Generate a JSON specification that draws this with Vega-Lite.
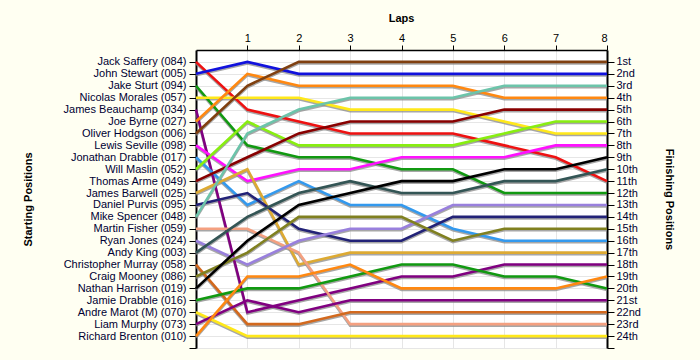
{
  "$schema": "https://vega.github.io/schema/vega-lite/v6.json",
  "width": 411,
  "height": 298,
  "autosize": {"type": "none"},
  "padding": {"left": 196, "top": 50, "right": 93, "bottom": 12},
  "background": "#FFFFF2",
  "config": {
    "view": {"stroke": null, "fill": "#FFFFFF"},
    "axis": {
      "labelFont": "Liberation Sans", "titleFont": "Liberation Sans",
      "labelFontSize": 11, "titleFontSize": 11, "titleFontWeight": "bold",
      "labelColor": "#000033", "titleColor": "#000000",
      "domainColor": "#000000", "tickColor": "#000000", "gridColor": "#E6E6E6"
    }
  },
  "data": {"values": [
    {"d":1,"l":0,"p":1},{"d":1,"l":1,"p":5},{"d":1,"l":2,"p":6},{"d":1,"l":3,"p":7},{"d":1,"l":4,"p":7},{"d":1,"l":5,"p":7},{"d":1,"l":6,"p":8},{"d":1,"l":7,"p":9},{"d":1,"l":8,"p":11},
    {"d":2,"l":0,"p":2},{"d":2,"l":1,"p":1},{"d":2,"l":2,"p":2},{"d":2,"l":3,"p":2},{"d":2,"l":4,"p":2},{"d":2,"l":5,"p":2},{"d":2,"l":6,"p":2},{"d":2,"l":7,"p":2},{"d":2,"l":8,"p":2},
    {"d":3,"l":0,"p":3},{"d":3,"l":1,"p":8},{"d":3,"l":2,"p":9},{"d":3,"l":3,"p":9},{"d":3,"l":4,"p":10},{"d":3,"l":5,"p":10},{"d":3,"l":6,"p":12},{"d":3,"l":7,"p":12},{"d":3,"l":8,"p":12},
    {"d":4,"l":0,"p":4},{"d":4,"l":1,"p":4},{"d":4,"l":2,"p":4},{"d":4,"l":3,"p":5},{"d":4,"l":4,"p":5},{"d":4,"l":5,"p":5},{"d":4,"l":6,"p":6},{"d":4,"l":7,"p":7},{"d":4,"l":8,"p":7},
    {"d":5,"l":0,"p":5},{"d":5,"l":1,"p":22},{"d":5,"l":2,"p":21},{"d":5,"l":3,"p":20},{"d":5,"l":4,"p":19},{"d":5,"l":5,"p":19},{"d":5,"l":6,"p":18},{"d":5,"l":7,"p":18},{"d":5,"l":8,"p":18},
    {"d":6,"l":0,"p":6},{"d":6,"l":1,"p":2},{"d":6,"l":2,"p":3},{"d":6,"l":3,"p":3},{"d":6,"l":4,"p":3},{"d":6,"l":5,"p":3},{"d":6,"l":6,"p":4},{"d":6,"l":7,"p":4},{"d":6,"l":8,"p":4},
    {"d":7,"l":0,"p":7},{"d":7,"l":1,"p":3},{"d":7,"l":2,"p":1},{"d":7,"l":3,"p":1},{"d":7,"l":4,"p":1},{"d":7,"l":5,"p":1},{"d":7,"l":6,"p":1},{"d":7,"l":7,"p":1},{"d":7,"l":8,"p":1},
    {"d":8,"l":0,"p":8},{"d":8,"l":1,"p":11},{"d":8,"l":2,"p":10},{"d":8,"l":3,"p":10},{"d":8,"l":4,"p":9},{"d":8,"l":5,"p":9},{"d":8,"l":6,"p":9},{"d":8,"l":7,"p":8},{"d":8,"l":8,"p":8},
    {"d":9,"l":0,"p":9},{"d":9,"l":1,"p":13},{"d":9,"l":2,"p":11},{"d":9,"l":3,"p":13},{"d":9,"l":4,"p":13},{"d":9,"l":5,"p":15},{"d":9,"l":6,"p":16},{"d":9,"l":7,"p":16},{"d":9,"l":8,"p":16},
    {"d":10,"l":0,"p":10},{"d":10,"l":1,"p":6},{"d":10,"l":2,"p":8},{"d":10,"l":3,"p":8},{"d":10,"l":4,"p":8},{"d":10,"l":5,"p":8},{"d":10,"l":6,"p":7},{"d":10,"l":7,"p":6},{"d":10,"l":8,"p":6},
    {"d":11,"l":0,"p":11},{"d":11,"l":1,"p":9},{"d":11,"l":2,"p":7},{"d":11,"l":3,"p":6},{"d":11,"l":4,"p":6},{"d":11,"l":5,"p":6},{"d":11,"l":6,"p":5},{"d":11,"l":7,"p":5},{"d":11,"l":8,"p":5},
    {"d":12,"l":0,"p":12},{"d":12,"l":1,"p":10},{"d":12,"l":2,"p":18},{"d":12,"l":3,"p":17},{"d":12,"l":4,"p":17},{"d":12,"l":5,"p":17},{"d":12,"l":6,"p":17},{"d":12,"l":7,"p":17},{"d":12,"l":8,"p":17},
    {"d":13,"l":0,"p":13},{"d":13,"l":1,"p":12},{"d":13,"l":2,"p":15},{"d":13,"l":3,"p":16},{"d":13,"l":4,"p":16},{"d":13,"l":5,"p":14},{"d":13,"l":6,"p":14},{"d":13,"l":7,"p":14},{"d":13,"l":8,"p":14},
    {"d":14,"l":0,"p":14},{"d":14,"l":1,"p":7},{"d":14,"l":2,"p":5},{"d":14,"l":3,"p":4},{"d":14,"l":4,"p":4},{"d":14,"l":5,"p":4},{"d":14,"l":6,"p":3},{"d":14,"l":7,"p":3},{"d":14,"l":8,"p":3},
    {"d":15,"l":0,"p":15},{"d":15,"l":1,"p":15},{"d":15,"l":2,"p":17},{"d":15,"l":3,"p":23},{"d":15,"l":4,"p":23},{"d":15,"l":5,"p":23},{"d":15,"l":6,"p":23},{"d":15,"l":7,"p":23},{"d":15,"l":8,"p":23},
    {"d":16,"l":0,"p":16},{"d":16,"l":1,"p":18},{"d":16,"l":2,"p":16},{"d":16,"l":3,"p":15},{"d":16,"l":4,"p":15},{"d":16,"l":5,"p":13},{"d":16,"l":6,"p":13},{"d":16,"l":7,"p":13},{"d":16,"l":8,"p":13},
    {"d":17,"l":0,"p":17},{"d":17,"l":1,"p":14},{"d":17,"l":2,"p":12},{"d":17,"l":3,"p":11},{"d":17,"l":4,"p":12},{"d":17,"l":5,"p":12},{"d":17,"l":6,"p":11},{"d":17,"l":7,"p":11},{"d":17,"l":8,"p":10},
    {"d":18,"l":0,"p":18},{"d":18,"l":1,"p":23},{"d":18,"l":2,"p":23},{"d":18,"l":3,"p":22},{"d":18,"l":4,"p":22},{"d":18,"l":5,"p":22},{"d":18,"l":6,"p":22},{"d":18,"l":7,"p":22},{"d":18,"l":8,"p":22},
    {"d":19,"l":0,"p":19},{"d":19,"l":1,"p":17},{"d":19,"l":2,"p":14},{"d":19,"l":3,"p":14},{"d":19,"l":4,"p":14},{"d":19,"l":5,"p":16},{"d":19,"l":6,"p":15},{"d":19,"l":7,"p":15},{"d":19,"l":8,"p":15},
    {"d":20,"l":0,"p":20},{"d":20,"l":1,"p":16},{"d":20,"l":2,"p":13},{"d":20,"l":3,"p":12},{"d":20,"l":4,"p":11},{"d":20,"l":5,"p":11},{"d":20,"l":6,"p":10},{"d":20,"l":7,"p":10},{"d":20,"l":8,"p":9},
    {"d":21,"l":0,"p":21},{"d":21,"l":1,"p":20},{"d":21,"l":2,"p":20},{"d":21,"l":3,"p":19},{"d":21,"l":4,"p":18},{"d":21,"l":5,"p":18},{"d":21,"l":6,"p":19},{"d":21,"l":7,"p":19},{"d":21,"l":8,"p":20},
    {"d":22,"l":0,"p":22},{"d":22,"l":1,"p":24},{"d":22,"l":2,"p":24},{"d":22,"l":3,"p":24},{"d":22,"l":4,"p":24},{"d":22,"l":5,"p":24},{"d":22,"l":6,"p":24},{"d":22,"l":7,"p":24},{"d":22,"l":8,"p":24},
    {"d":23,"l":0,"p":23},{"d":23,"l":1,"p":21},{"d":23,"l":2,"p":22},{"d":23,"l":3,"p":21},{"d":23,"l":4,"p":21},{"d":23,"l":5,"p":21},{"d":23,"l":6,"p":21},{"d":23,"l":7,"p":21},{"d":23,"l":8,"p":21},
    {"d":24,"l":0,"p":24},{"d":24,"l":1,"p":19},{"d":24,"l":2,"p":19},{"d":24,"l":3,"p":18},{"d":24,"l":4,"p":20},{"d":24,"l":5,"p":20},{"d":24,"l":6,"p":20},{"d":24,"l":7,"p":20},{"d":24,"l":8,"p":19}
  ]},
  "encoding": {
    "x": {
      "field": "l", "type": "quantitative",
      "scale": {"domain": [0, 8], "nice": false, "zero": false},
      "axis": {
        "orient": "top", "values": [1, 2, 3, 4, 5, 6, 7, 8], "format": "d",
        "title": "Laps", "grid": true, "domainWidth": 1.5, "tickSize": 5, "labelPadding": 2,
        "labelColor": "#000000",
        "titleX": 205, "titleY": -32, "titleBaseline": "middle", "titleAlign": "center"
      }
    }
  },
  "layer": [
    {
      "mark": {"type": "line", "stroke": "#8A8A8A", "strokeWidth": 2.6, "yOffset": 1.5, "opacity": 0.75},
      "encoding": {
        "detail": {"field": "d", "type": "nominal"},
        "y": {
          "field": "p", "type": "quantitative",
          "scale": {"domain": [0, 25], "reverse": true, "nice": false, "zero": false},
          "axis": {
            "orient": "left",
            "values": [1,2,3,4,5,6,7,8,9,10,11,12,13,14,15,16,17,18,19,20,21,22,23,24,25],
            "labelExpr": "['','Jack Saffery (084)','John Stewart (005)','Jake Sturt (094)','Nicolas Morales (057)','James Beauchamp (034)','Joe Byrne (027)','Oliver Hodgson (006)','Lewis Seville (098)','Jonathan Drabble (017)','Will Maslin (052)','Thomas Arme (049)','James Barwell (025)','Daniel Purvis (095)','Mike Spencer (048)','Martin Fisher (059)','Ryan Jones (024)','Andy King (003)','Christopher Murray (058)','Craig Mooney (086)','Nathan Harrison (019)','Jamie Drabble (016)','Andre Marot (M) (070)','Liam Murphy (073)','Richard Brenton (010)',''][datum.value]",
            "title": "Starting Positions", "grid": true, "domainWidth": 2, "tickSize": 7, "labelPadding": 3,
            "titleAngle": -90, "titleX": -168, "titleY": 149, "titleBaseline": "middle", "titleAlign": "center"
          }
        }
      }
    },
    {
      "mark": {"type": "line", "strokeWidth": 2.6},
      "encoding": {
        "color": {
          "field": "d", "type": "nominal", "legend": null,
          "scale": {
            "domain": [1,2,3,4,5,6,7,8,9,10,11,12,13,14,15,16,17,18,19,20,21,22,23,24],
            "range": ["#EE1111","#1111DD","#119911","#FFE81A","#800080","#FF8811","#804010","#FF11FF","#3399EE","#88EE11","#880000","#DDAA33","#222277","#6CC4AA","#F4A080","#9980DD","#335555","#D2691E","#808020","#000000","#119911","#FFE81A","#800080","#FF8811"]
          }
        },
        "y": {
          "field": "p", "type": "quantitative",
          "axis": {
            "orient": "right",
            "values": [1,2,3,4,5,6,7,8,9,10,11,12,13,14,15,16,17,18,19,20,21,22,23,24,25],
            "labelExpr": "['','1st','2nd','3rd','4th','5th','6th','7th','8th','9th','10th','11th','12th','13th','14th','15th','16th','17th','18th','19th','20th','21st','22nd','23rd','24th',''][datum.value]",
            "title": "Finishing Positions", "grid": false, "domainWidth": 2, "tickSize": 7, "labelPadding": 2,
            "titleAngle": 90, "titleX": 61, "titleY": 149, "titleBaseline": "middle", "titleAlign": "center"
          }
        }
      }
    }
  ],
  "resolve": {"axis": {"y": "independent"}}
}
